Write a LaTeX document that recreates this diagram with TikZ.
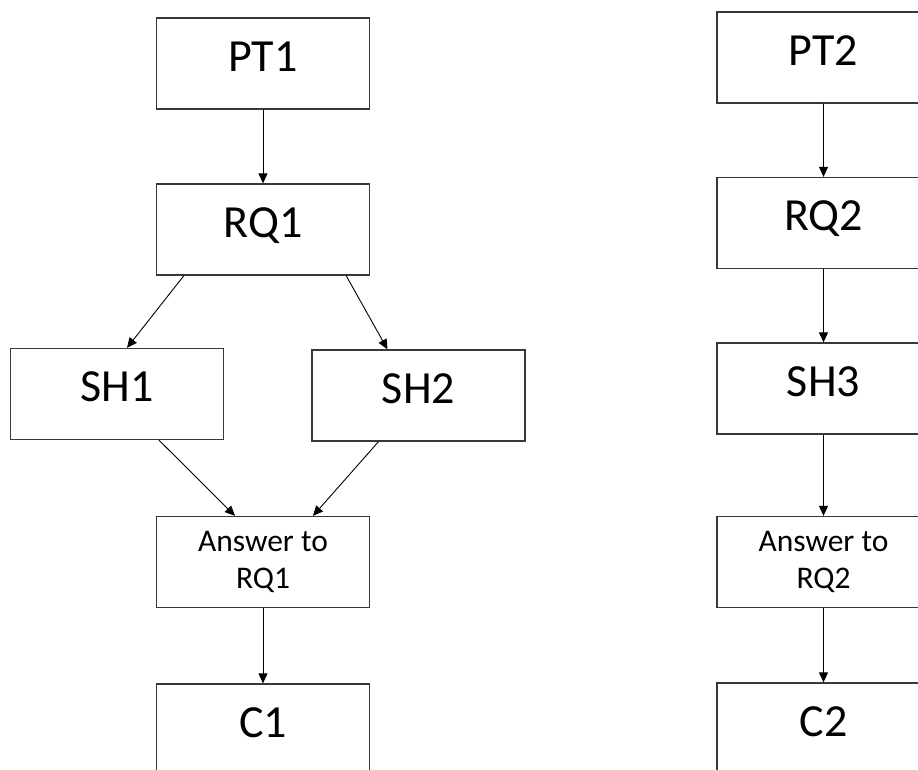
\documentclass[tikz,border=0pt]{standalone}
\usepackage{fontspec}
\setmainfont{Carlito}
\usetikzlibrary{arrows.meta,calc}
\begin{document}
\begin{tikzpicture}[x=1pt,y=-1pt,
  box/.style={draw=black!78, line width=1.3pt, minimum width=213pt, minimum height=91pt, inner sep=0pt},
  big/.style={box, font=\fontsize{46}{54}\selectfont, text height=30pt, text depth=15pt},
  small/.style={box, font=\fontsize{31.5}{37}\selectfont, align=center},
  arr/.style={draw=black, line width=0.9pt, -{Triangle[length=10pt,width=9pt]}}
]
\useasboundingbox (0,0) rectangle (918,769);
\clip (0,0) rectangle (918,769);
% left column
\node[big]   (PT1)  at (263,63.5)  {PT1};
\node[big]   (RQ1)  at (263,229.5) {RQ1};
\node[big]   (SH1)  at (117,394)   {SH1};
\node[big]   (SH2)  at (418.5,395.5) {SH2};
\node[small] (ANS1) at (263,562)   {Answer to\\RQ1};
\node[big]   (C1)   at (263,729.5) {C1};
% right column
\node[big]   (PT2)  at (823.5,57.5) {PT2};
\node[big]   (RQ2)  at (823.5,223)  {RQ2};
\node[big]   (SH3)  at (823.5,388.5) {SH3};
\node[small] (ANS2) at (823.5,562)  {Answer to\\RQ2};
\node[big]   (C2)   at (823.5,728.5) {C2};
% arrows left
\draw[arr] (PT1.south) -- (RQ1.north);
\draw[arr] ($(RQ1.south west)+(28,0)$) -- ($(SH1.north)+(10,0)$);
\draw[arr] ($(RQ1.south east)+(-24,0)$) -- ($(SH2.north)+(-31,0)$);
\draw[arr] ($(SH1.south)+(42,0)$) -- ($(ANS1.north)+(-28,0)$);
\draw[arr] ($(SH2.south)+(-40,0)$) -- ($(ANS1.north)+(50,0)$);
\draw[arr] (ANS1.south) -- (C1.north);
% arrows right
\draw[arr] (PT2.south) -- (RQ2.north);
\draw[arr] (RQ2.south) -- (SH3.north);
\draw[arr] (SH3.south) -- (ANS2.north);
\draw[arr] (ANS2.south) -- (C2.north);
\end{tikzpicture}
\end{document}
